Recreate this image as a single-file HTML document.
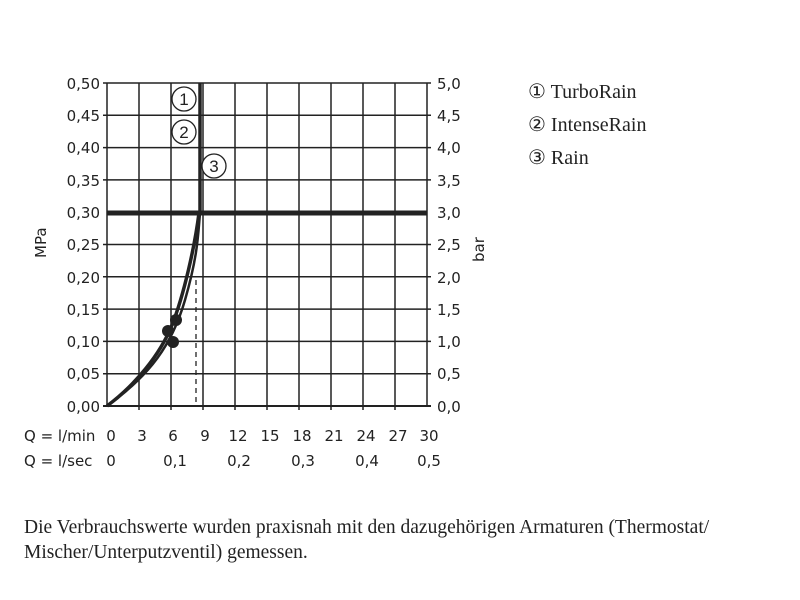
<!DOCTYPE html>
<html><head><style>
body{margin:0;background:#fff;width:800px;height:600px;overflow:hidden}
</style></head><body>
<svg width="800" height="600" xmlns="http://www.w3.org/2000/svg" style="position:absolute;left:0;top:0">
<g stroke="#222" stroke-width="1.5">
<line x1="107" y1="83" x2="107" y2="406"/><line x1="139" y1="83" x2="139" y2="410"/><line x1="171" y1="83" x2="171" y2="410"/><line x1="203" y1="83" x2="203" y2="410"/><line x1="235" y1="83" x2="235" y2="410"/><line x1="267" y1="83" x2="267" y2="410"/><line x1="299" y1="83" x2="299" y2="410"/><line x1="331" y1="83" x2="331" y2="410"/><line x1="363" y1="83" x2="363" y2="410"/><line x1="395" y1="83" x2="395" y2="410"/><line x1="427" y1="83" x2="427" y2="406"/>
<line x1="103" y1="83" x2="431" y2="83"/><line x1="103" y1="115.3" x2="431" y2="115.3"/><line x1="103" y1="147.6" x2="431" y2="147.6"/><line x1="103" y1="179.9" x2="431" y2="179.9"/><line x1="103" y1="244.5" x2="431" y2="244.5"/><line x1="103" y1="276.8" x2="431" y2="276.8"/><line x1="103" y1="309.1" x2="431" y2="309.1"/><line x1="103" y1="341.4" x2="431" y2="341.4"/><line x1="103" y1="373.7" x2="431" y2="373.7"/><line x1="103" y1="406" x2="431" y2="406" stroke-width="2"/>
</g>
<line x1="107" y1="213" x2="427" y2="213" stroke="#222" stroke-width="5"/>
<line x1="200" y1="83" x2="200" y2="213" stroke="#222" stroke-width="3.5"/>
<line x1="196" y1="280" x2="196" y2="406" stroke="#222" stroke-width="1.3" stroke-dasharray="5,4"/>
<path d="M107,406 C150,375 172,345 185,300 S198,235 200,213" fill="none" stroke="#222" stroke-width="2.5"/>
<path d="M107,406 C135,385 160,355 172,325 S195,245 199,213" fill="none" stroke="#222" stroke-width="3.5"/>
<circle cx="176" cy="320" r="6" fill="#222"/><circle cx="168" cy="331" r="6" fill="#222"/><circle cx="173" cy="342" r="6" fill="#222"/>
<g fill="#fff" stroke="#222" stroke-width="1.3">
<circle cx="184" cy="99" r="12"/><circle cx="184" cy="132" r="12"/><circle cx="214" cy="166" r="12"/></g>
<g font-family="Liberation Sans, sans-serif" font-size="17" fill="#222" text-anchor="middle">
<text x="184" y="105">1</text><text x="184" y="138">2</text><text x="214" y="172">3</text></g>
<g font-family="DejaVu Sans, sans-serif" font-size="15" fill="#222" text-anchor="end">
<text x="100" y="89">0,50</text><text x="100" y="121">0,45</text><text x="100" y="153">0,40</text><text x="100" y="186">0,35</text><text x="100" y="218">0,30</text><text x="100" y="250">0,25</text><text x="100" y="283">0,20</text><text x="100" y="315">0,15</text><text x="100" y="347">0,10</text><text x="100" y="379">0,05</text><text x="100" y="412">0,00</text>
</g>
<g font-family="DejaVu Sans, sans-serif" font-size="15" fill="#222">
<text x="437" y="89">5,0</text><text x="437" y="121">4,5</text><text x="437" y="153">4,0</text><text x="437" y="186">3,5</text><text x="437" y="218">3,0</text><text x="437" y="250">2,5</text><text x="437" y="283">2,0</text><text x="437" y="315">1,5</text><text x="437" y="347">1,0</text><text x="437" y="379">0,5</text><text x="437" y="412">0,0</text>
<text x="24" y="441">Q = l/min</text><text x="24" y="466">Q = l/sec</text>
<text transform="translate(46,258) rotate(-90)">MPa</text>
<text transform="translate(484,262) rotate(-90)">bar</text>
</g>
<g font-family="DejaVu Sans, sans-serif" font-size="15" fill="#222" text-anchor="middle">
<text x="111" y="441">0</text><text x="142" y="441">3</text><text x="173" y="441">6</text><text x="205" y="441">9</text><text x="238" y="441">12</text><text x="270" y="441">15</text><text x="302" y="441">18</text><text x="334" y="441">21</text><text x="366" y="441">24</text><text x="398" y="441">27</text><text x="429" y="441">30</text>
<text x="111" y="466">0</text><text x="175" y="466">0,1</text><text x="239" y="466">0,2</text><text x="303" y="466">0,3</text><text x="367" y="466">0,4</text><text x="429" y="466">0,5</text>
</g>
<g font-family="Liberation Serif, serif" font-size="20" fill="#222">
<text x="528" y="98">① TurboRain</text><text x="528" y="131">② IntenseRain</text><text x="528" y="164">③ Rain</text>
</g>
<g font-family="Liberation Serif, serif" font-size="19.5" fill="#222">
<text x="24" y="533">Die Verbrauchswerte wurden praxisnah mit den dazugehörigen Armaturen (Thermostat/</text>
<text x="24" y="558">Mischer/Unterputzventil) gemessen.</text>
</g>
</svg>
</body></html>
